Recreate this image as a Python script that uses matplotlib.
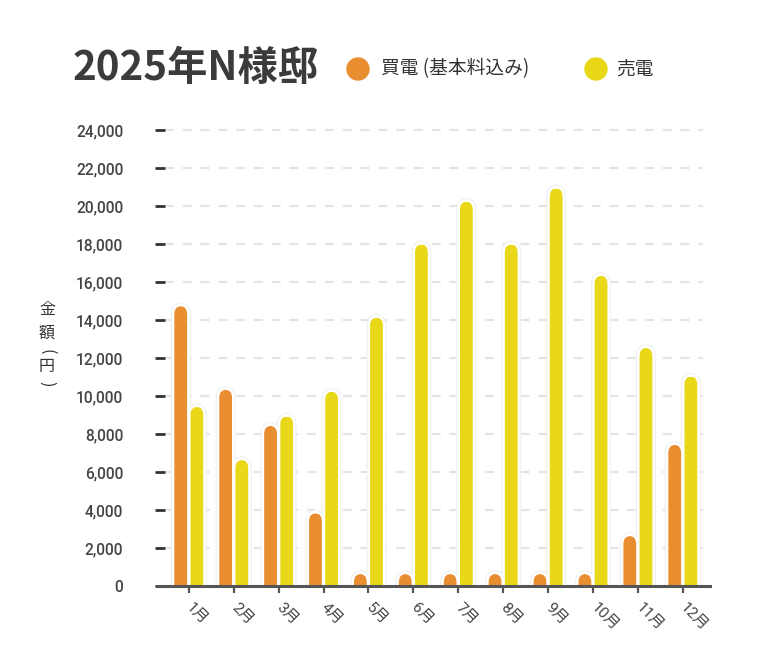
import matplotlib
matplotlib.use('Agg')
import matplotlib.pyplot as plt
from matplotlib.patches import FancyBboxPatch, Ellipse
from matplotlib.ticker import FuncFormatter
import numpy as np

plt.rcParams['font.family'] = ['Roboto', 'Noto Sans CJK JP', 'DejaVu Sans']

months = [f'{m}月' for m in range(1, 13)]
buy = [14800, 10400, 8500, 3900, 700, 700, 700, 700, 700, 700, 2700, 7500]
sell = [9500, 6700, 9000, 10300, 14200, 18050, 20300, 18050, 21000, 16400, 12600, 11100]
yticks = list(range(0, 24001, 2000))

ORANGE = '#E98D31'
YELLOW = '#E9D817'
DARK = '#444444'

fig = plt.figure(figsize=(7.67, 6.52), dpi=100)
W, H = 767, 652
ax = fig.add_axes([165 / W, 1 - 586 / H, (703 - 165) / W, (586 - 120) / H])

x = np.arange(len(months))
off, bw = 0.18, 0.34


def rounded_bars(ax, xs, vals, color):
    bars = ax.bar(xs, vals, width=bw, color=color)
    # swap plain rectangles for rounded ones (bottom sunk below 0 so only top is round)
    for b in bars:
        bx, by = b.get_xy()
        for ec, lw, z in [('#f0f0f0', 3.4, 2.8), ('white', 1.8, 3)]:
            p = FancyBboxPatch((bx, by - 900), b.get_width(), b.get_height() + 900,
                               boxstyle='round,pad=0,rounding_size=0.2',
                               mutation_aspect=2400, facecolor=color,
                               edgecolor=ec, linewidth=lw, zorder=z)
            ax.add_patch(p)
        b.set_visible(False)


rounded_bars(ax, x - off, buy, ORANGE)
rounded_bars(ax, x + off, sell, YELLOW)

ax.set_xlim(-0.53, 11.45)
ax.set_ylim(0, 466 / 19 * 1000)
ax.set_yticks(yticks)
ax.yaxis.set_major_formatter(FuncFormatter(lambda v, p: f'{int(v):,}'))
ax.grid(axis='y', color='#e4e4e4', linestyle=(0, (4, 4)), linewidth=1.6, zorder=0)
ax.set_axisbelow(True)
for s in ['top', 'right', 'left', 'bottom']:
    ax.spines[s].set_visible(False)
ax.axhline(0, xmin=-0.013, xmax=1.013, color='#555555', linewidth=2.2, clip_on=False, zorder=4)

ax.tick_params(axis='y', length=7, width=2, color='#333333', pad=23,
               labelsize=11.2, labelcolor=DARK)
for t in ax.get_yticklabels():
    t.set_fontweight('medium')

ax.set_xticks(x)
ax.set_xticklabels(months, rotation=-45, ha='left', va='center', rotation_mode='anchor',
                   fontsize=11, color=DARK)
ax.tick_params(axis='x', length=5, width=1.6, color='#555555', pad=9)

# vertical y-axis label, one glyph per line, brackets turned sideways
ylab = [('金', 0, 310), ('額', 0, 333), ('(', -90, 352), ('円', 0, 367), (')', -90, 384)]
for ch, rot, py in ylab:
    fig.text(47 / W, 1 - py / H, ch, ha='center', va='center', rotation=rot,
             fontsize=11.5, color='#333333', family='Noto Sans CJK JP')

fig.text(73 / W, 1 - 68 / H, '2025年N様邸', ha='left', va='center',
         fontsize=29, fontweight='bold', color='#3b3b3b', family='Noto Sans CJK JP')

fig.patches.append(Ellipse((358 / W, 1 - 69 / H), 22 / W, 22 / H, color=ORANGE,
                           transform=fig.transFigure, figure=fig))
fig.patches.append(Ellipse((596 / W, 1 - 69 / H), 22 / W, 22 / H, color=YELLOW,
                           transform=fig.transFigure, figure=fig))
fig.text(381 / W, 1 - 69 / H, '買電 (基本料込み)', ha='left', va='center',
         fontsize=13.5, color='#333333', family='Noto Sans CJK JP')
fig.text(616 / W, 1 - 69 / H, '売電', ha='left', va='center',
         fontsize=13.5, color='#333333', family='Noto Sans CJK JP')

fig.savefig('out.png', dpi=100, facecolor='white')
